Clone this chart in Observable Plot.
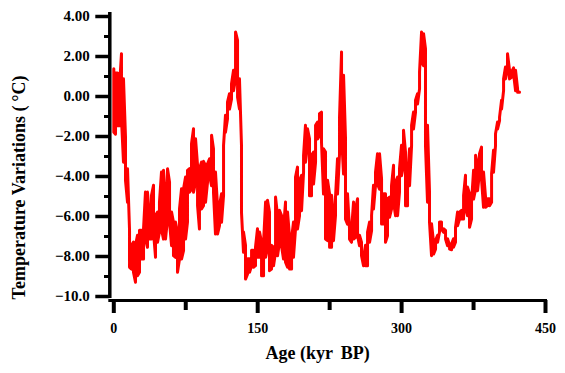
<!DOCTYPE html>
<html><head><meta charset="utf-8">
<script src="https://cdn.jsdelivr.net/npm/d3@7"></script>
<script src="https://cdn.jsdelivr.net/npm/@observablehq/plot@0.6"></script>
<style>body{margin:0;background:#fff} svg{display:block}</style>
</head><body><div id="chart"></div>
<script>
// Vostok temperature record: for each age sample, the upper and lower envelope
const ages = [0,1.8,3.9,5.9,8.0,10.1,12.2,14.3,16.4,18.5,
20.5,22.6,24.7,26.8,28.9,31.0,33.0,35.1,37.2,39.3,
41.4,43.5,45.6,47.6,49.7,51.8,53.9,56.0,58.1,60.2,
62.2,64.3,66.4,68.5,70.6,72.7,74.8,76.8,78.9,81.0,
83.1,85.2,87.3,89.3,91.4,93.5,95.6,97.7,99.8,101.9,
103.9,106.0,108.1,110.2,112.3,114.4,116.4,118.5,120.6,122.7,
124.8,126.9,129.0,131.0,133.1,135.2,137.3,139.4,141.5,143.6,
145.6,147.7,149.8,151.9,154.0,156.1,158.2,160.2,162.3,164.4,
166.5,168.6,170.7,172.7,174.8,176.9,179.0,181.1,183.2,185.3,
187.3,189.4,191.5,193.6,195.7,197.8,199.8,201.9,204.0,206.1,
208.2,210.3,212.4,214.4,216.5,218.6,220.7,222.8,224.9,227.0,
229.0,231.1,233.2,235.3,237.4,239.5,241.5,243.6,245.7,247.8,
249.9,252.0,254.1,256.1,258.2,260.3,262.4,264.5,266.6,268.7,
270.7,272.8,274.9,277.0,279.1,281.2,283.2,285.3,287.4,289.5,
291.6,293.7,295.8,297.8,299.9,302.0,304.1,306.2,308.3,310.4,
312.4,314.5,316.6,318.7,320.8,322.9,324.9,327.0,329.1,331.2,
333.3,335.4,337.5,339.5,341.6,343.7,345.8,347.9,350.0,352.1,
354.1,356.2,358.3,360.4,362.5,364.6,366.6,368.7,370.8,372.9,
375.0,377.1,379.2,381.2,383.3,385.4,387.5,389.6,391.7,393.8,
395.8,397.9,400.0,402.1,404.2,406.3,408.3,410.4,412.5,414.6,
416.7,418.8,420.9,422.9];
const tops = [1.39,1.18,1.18,0.48,2.14,0.89,-2.03,-3.61,-6.69,-7.44,
-7.28,-7.44,-6.94,-6.69,-6.69,-6.61,-4.78,-4.78,-5.94,-4.94,
-4.44,-5.94,-5.78,-5.28,-3.78,-3.69,-4.94,-3.61,-4.28,-5.78,
-6.28,-6.28,-6.78,-5.61,-4.61,-4.61,-4.03,-3.69,-3.61,-2.36,
-1.61,-2.11,-3.44,-3.61,-3.28,-3.24,-3.44,-3.36,-3.11,-1.94,
-2.61,-3.78,-5.44,-5.44,-4.86,-2.44,-0.94,-0.28,0.14,0.64,
1.31,3.23,2.81,0.89,-2.44,-6.78,-7.44,-8.11,-8.11,-7.69,
-7.69,-7.53,-6.61,-6.78,-7.28,-7.28,-5.28,-5.19,-5.78,-7.44,
-7.53,-5.03,-5.94,-5.69,-5.94,-6.61,-5.28,-5.78,-7.03,-7.11,
-6.28,-4.03,-3.53,-4.19,-3.94,-2.94,-1.44,-1.61,-2.11,-2.94,
-2.78,-1.44,-1.28,-0.86,-0.78,-2.61,-2.78,-4.19,-4.86,-4.94,
-5.86,-5.03,-3.11,-1.03,2.23,1.06,-2.03,-4.86,-6.61,-6.69,
-5.28,-5.61,-5.11,-6.94,-7.28,-8.03,-7.44,-6.78,-6.28,-5.94,
-4.44,-3.78,-2.86,-2.86,-4.11,-4.86,-4.86,-5.11,-5.03,-4.44,
-3.44,-4.28,-4.03,-3.61,-2.44,-1.69,-2.78,-3.94,-2.61,-1.44,
-0.78,-0.19,0.14,1.23,3.23,3.14,2.39,-1.44,-4.78,-6.36,
-7.28,-7.19,-6.94,-6.28,-6.28,-6.61,-6.69,-7.11,-7.44,-7.36,
-7.11,-6.53,-5.78,-5.78,-5.69,-4.94,-3.94,-4.53,-4.86,-5.28,
-3.69,-2.94,-3.36,-2.86,-2.53,-3.78,-5.03,-5.11,-5.11,-3.86,
-2.69,-1.86,-1.28,-1.03,-0.19,0.89,1.48,2.14,1.31,1.23,
1.43,1.31,0.39,0.23];
const bottoms = [-1.79,-1.88,-1.46,-1.46,-1.13,-3.29,-4.21,-5.29,-8.54,-8.63,
-8.79,-9.29,-8.96,-8.79,-8.13,-8.13,-7.13,-7.54,-7.13,-7.13,
-6.79,-8.04,-7.29,-6.79,-6.63,-7.13,-7.13,-6.13,-6.29,-7.46,
-7.96,-8.04,-8.79,-8.13,-8.13,-7.71,-7.13,-6.29,-4.79,-4.63,
-4.79,-4.29,-5.46,-6.63,-5.63,-5.46,-5.29,-4.29,-3.96,-4.46,
-4.79,-6.88,-6.88,-6.46,-6.29,-4.96,-1.79,-1.13,-0.63,-0.13,
0.29,0.88,-0.04,-0.63,-5.79,-7.79,-9.13,-8.88,-8.79,-8.46,
-8.54,-8.46,-8.04,-8.04,-8.96,-8.96,-8.04,-7.63,-8.71,-8.63,
-8.46,-7.79,-7.96,-7.29,-7.46,-8.13,-8.29,-8.54,-8.63,-8.63,
-8.04,-6.63,-6.63,-5.96,-5.71,-3.79,-3.29,-2.46,-4.96,-4.96,
-4.38,-3.29,-2.13,-1.96,-2.29,-4.88,-7.13,-7.21,-7.54,-7.54,
-7.21,-5.96,-4.88,-2.88,-1.96,-3.88,-6.13,-6.38,-7.13,-7.29,
-7.13,-7.04,-6.96,-7.46,-7.96,-8.46,-8.46,-8.46,-7.29,-6.71,
-5.63,-4.46,-4.38,-4.63,-6.38,-6.38,-7.29,-6.96,-6.04,-5.63,
-5.29,-5.96,-5.96,-4.79,-3.96,-3.46,-5.46,-5.46,-4.46,-2.46,
-1.63,-0.79,-0.38,0.38,1.71,1.54,-2.46,-5.29,-6.29,-7.96,
-7.88,-7.63,-7.29,-6.79,-6.63,-6.79,-7.13,-7.46,-7.63,-7.66,
-7.54,-7.29,-6.46,-6.13,-6.13,-6.13,-5.63,-5.96,-6.54,-6.13,
-5.13,-4.63,-4.71,-3.79,-4.13,-5.54,-5.54,-5.46,-5.46,-5.29,
-3.79,-2.46,-1.63,-1.21,-0.63,0.29,0.88,1.29,0.88,0.96,
1.13,0.29,0.21,0.21];

const yMajorTicks = [4, 2, 0, -2, -4, -6, -8, -10];
const yTickLabels = ["4.00", "2.00", "0.00", "\u22122.00", "\u22124.00", "\u22126.00", "\u22128.00", "\u221210.0"];
const yMinorTicks = [3, 1, -1, -3, -5, -7, -9];
const xMajorTicks = [0, 150, 300, 450];
const xTickLabels = ["0", "150", "300", "450"];
const xMinorTicks = [75, 225, 375];
const xLabel = "Age (kyr \u2009BP)";
const yLabel = "Temperature Variations (\u2009\u00b0C)";

// zig-zag through the envelope of each sample
const points = [];
ages.forEach((a, i) => {
  const pair = [{age: a, t: tops[i]}, {age: a, t: bottoms[i]}];
  if (i % 2) pair.reverse();
  points.push(...pair);
});

const font = "'Liberation Serif', 'Times New Roman', serif";
const chart = Plot.plot({
  width: 565,
  height: 373,
  marginLeft: 113.3,
  marginRight: 20,
  marginTop: 16,
  marginBottom: 77,
  x: {domain: [0, 450], axis: null},
  y: {domain: [-10, 4], axis: null},
  style: {fontFamily: font, background: "#fff", color: "#000"},
  marks: [
    Plot.line(points, {x: "age", y: "t", stroke: "#ff0000", strokeWidth: 3}),
    Plot.ruleX([0], {dx: -4, insetTop: -4, insetBottom: -2, strokeWidth: 3.5}),
    Plot.ruleY([-10], {dy: 4, insetLeft: -5, insetRight: -2, strokeWidth: 3}),
    Plot.axisY(yMajorTicks, {anchor: "left", label: null, tickSize: 14, dx: -4, tickPadding: 6, strokeWidth: 3.5,
      fontSize: 15, fontWeight: "bold", tickFormat: d => yTickLabels[yMajorTicks.indexOf(d)]}),
    Plot.axisY(yMinorTicks, {anchor: "left", label: null, tickSize: 5.3, dx: -4, strokeWidth: 3, tickFormat: () => ""}),
    Plot.axisX(xMajorTicks, {anchor: "bottom", label: null, tickSize: 13, dy: 4, tickPadding: 10, strokeWidth: 4,
      fontSize: 14, fontWeight: "bold", tickFormat: d => xTickLabels[xMajorTicks.indexOf(d)]}),
    Plot.axisX(xMinorTicks, {anchor: "bottom", label: null, tickSize: 10, dy: 4, strokeWidth: 4, tickFormat: () => ""}),
    Plot.text([xLabel], {frameAnchor: "bottom", textAnchor: "middle", dx: -12, dy: 62, fontSize: 18, fontWeight: "bold", text: d => d}),
    Plot.text([yLabel], {frameAnchor: "left", textAnchor: "middle", rotate: -90, dx: -95, dy: 31, fontSize: 18, fontWeight: "bold", text: d => d})
  ]
});
document.getElementById("chart").append(chart);
</script>
</body></html>
